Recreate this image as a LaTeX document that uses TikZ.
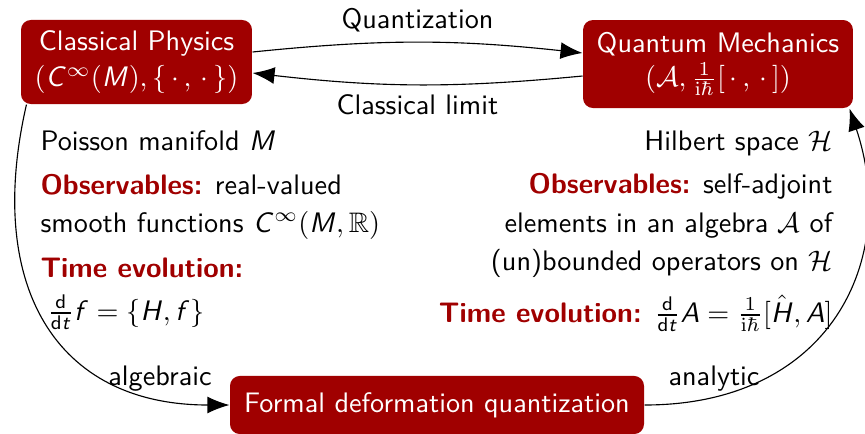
\documentclass[tikz,border=0pt]{standalone}
\usepackage{amssymb}
\usetikzlibrary{arrows.meta,calc}
\renewcommand\familydefault{\sfdefault}
\DeclareSymbolFont{sfletters}{OT1}{cmss}{m}{sl}
\DeclareMathSymbol{C}{\mathalpha}{sfletters}{`C}
\DeclareMathSymbol{M}{\mathalpha}{sfletters}{`M}
\DeclareMathSymbol{H}{\mathalpha}{sfletters}{`H}
\DeclareMathSymbol{A}{\mathalpha}{sfletters}{`A}
\DeclareMathSymbol{f}{\mathalpha}{sfletters}{`f}
\DeclareMathSymbol{t}{\mathalpha}{sfletters}{`t}
\newcommand\myhbar{{\mathchar'26\mkern-9mu\mathchar"0168}}
\definecolor{dred}{RGB}{160,0,0}
\tikzset{
  box/.style={fill=dred, text=white, rounded corners=3.5pt, align=center, inner sep=0pt},
  txt/.style={inner sep=0pt},
  arr/.style={-{Latex[length=7.8pt,width=6pt]}, line width=0.4pt},
}
\newcommand\hd[1]{\textcolor{dred}{\bfseries #1}}
\begin{document}
\begin{tikzpicture}[x=0.3546pt,y=0.3546pt]
\useasboundingbox (0,0) rectangle (865,-433);
\node[box, minimum width=81.9pt, minimum height=29.8pt] (cp) at (136.5,-62)
  {Classical Physics\\[1pt]$(C^\infty(M),\{\,\cdot\,,\,\cdot\,\})$};
\node[box, minimum width=95.7pt, minimum height=31.2pt] (qm) at (718,-64)
  {Quantum Mechanics\\$(\mathcal{A},\frac{1}{\mathrm{i}\myhbar}[\,\cdot\,,\,\cdot\,])$};
\node[box, minimum width=146.8pt, minimum height=20.6pt] (fd) at (437,-405)
  {Formal deformation quantization};

\node[txt, anchor=base west] (l1) at (40,-150) {Poisson manifold $M$};
\node[txt, anchor=base west] (l2) at (40,-194) {\hd{Observables:} real-valued};
\node[txt, anchor=base west] (l3) at (40,-232) {smooth functions $C^\infty(M,\mathbb{R})$};
\node[txt, anchor=base west] (l4) at (40,-277) {\hd{Time evolution:}};
\node[txt, anchor=base west] (l5) at (47,-320) {$\frac{\mathsf{d}}{\mathsf{d}t}f=\{H,f\}$};

\node[txt, anchor=base east] (r1) at (833,-150) {Hilbert space $\mathcal{H}$};
\node[txt, anchor=base east] (r2) at (833,-193) {\hd{Observables:} self-adjoint};
\node[txt, anchor=base east] (r3) at (833,-232) {elements in an algebra $\mathcal{A}$ of};
\node[txt, anchor=base east] (r4) at (833,-270) {(un)bounded operators on $\mathcal{H}$};
\node[txt, anchor=base east] (r5) at (833,-322) {\hd{Time evolution:} $\frac{\mathsf{d}}{\mathsf{d}t}A=\frac{1}{\mathrm{i}\myhbar}[\hat{H},A]$};

\draw[arr] ($(cp.east)+(0,10)$) to[bend left=6] node[above] (qz) {Quantization} ($(qm.west)+(0,11)$);
\draw[arr] ($(qm.west)+(0,-12)$) to[bend left=6] node[below] (cl) {Classical limit} ($(cp.east)+(0,-11)$);
\draw[arr] ($(cp.south west)+(6,0)$) .. controls (-15,-285) and (55,-405) .. (fd.west);
\draw[arr] (fd.east) .. controls (830,-405) and (900,-260) .. ($(qm.south east)+(-4,0)$);

\node[txt, anchor=base] (alg) at (160,-385) {algebraic};
\node[txt, anchor=base] (ana) at (714,-385) {analytic};
\end{tikzpicture}
\end{document}
